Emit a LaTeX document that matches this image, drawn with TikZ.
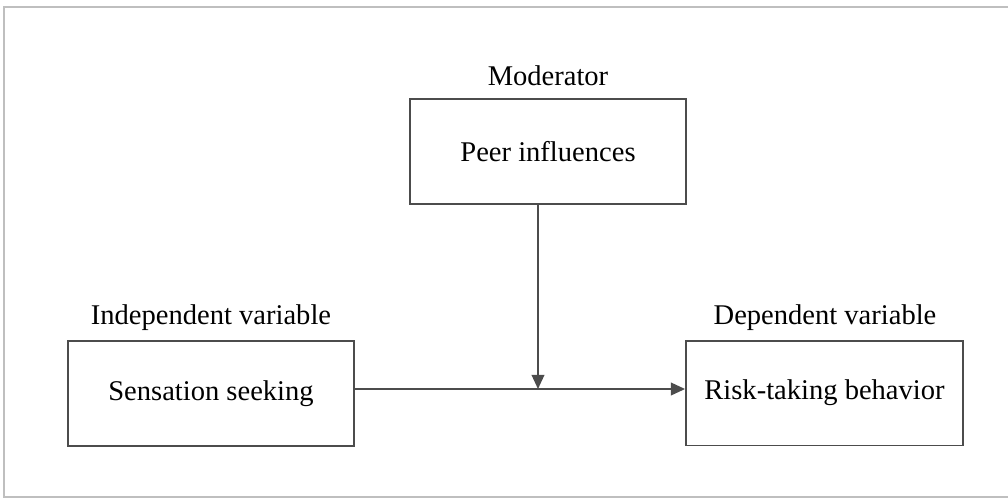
\documentclass[tikz,border=0pt]{standalone}
\usepackage{fontspec}
\setmainfont{Liberation Serif}
\usetikzlibrary{arrows.meta}
\usetikzlibrary{positioning}
\tikzset{varbox/.style = {draw=black!70, line width=1.3pt, minimum width=7cm,
                          minimum height=2.62cm, inner sep=0pt, font=\fontsize{20.3}{22}\selectfont},
         varlabel/.style = {font=\fontsize{20.3}{22}\selectfont, inner sep=0pt},
         flow/.style = {draw=black!70, line width=1.1pt, -{Triangle[length=10pt,width=9pt]}}}

\begin{document}
\begin{tikzpicture}[x=0.025cm, y=-0.025cm]
		\useasboundingbox (0,0) rectangle (1008,500);
		\draw [black!25, line width=0.8pt] (1008,7) -- (4,7) -- (4,497) -- (1008,497);
		\node [varbox, minimum width=6.9cm] (peer) at (548,151.5) {Peer influences};
		\node [varbox, minimum width=7.15cm] (seek) at (211,393.5) {Sensation seeking};
		\node [varbox, minimum width=6.925cm] (risk) at (824.5,393) {Risk-taking behavior};
		\node [varlabel] (mod) at (548,76) {Moderator};
		\node [varlabel] (ind) at (211,318) {Independent variable};
		\node [varlabel] (dep) at (825,318) {Dependent variable};
		\coordinate (join) at (538,389);
		\draw [flow] (seek.east |- join) to (risk.west |- join);
		\draw [flow] (peer.south -| join) to (join);
	\end{tikzpicture}
\end{document}
